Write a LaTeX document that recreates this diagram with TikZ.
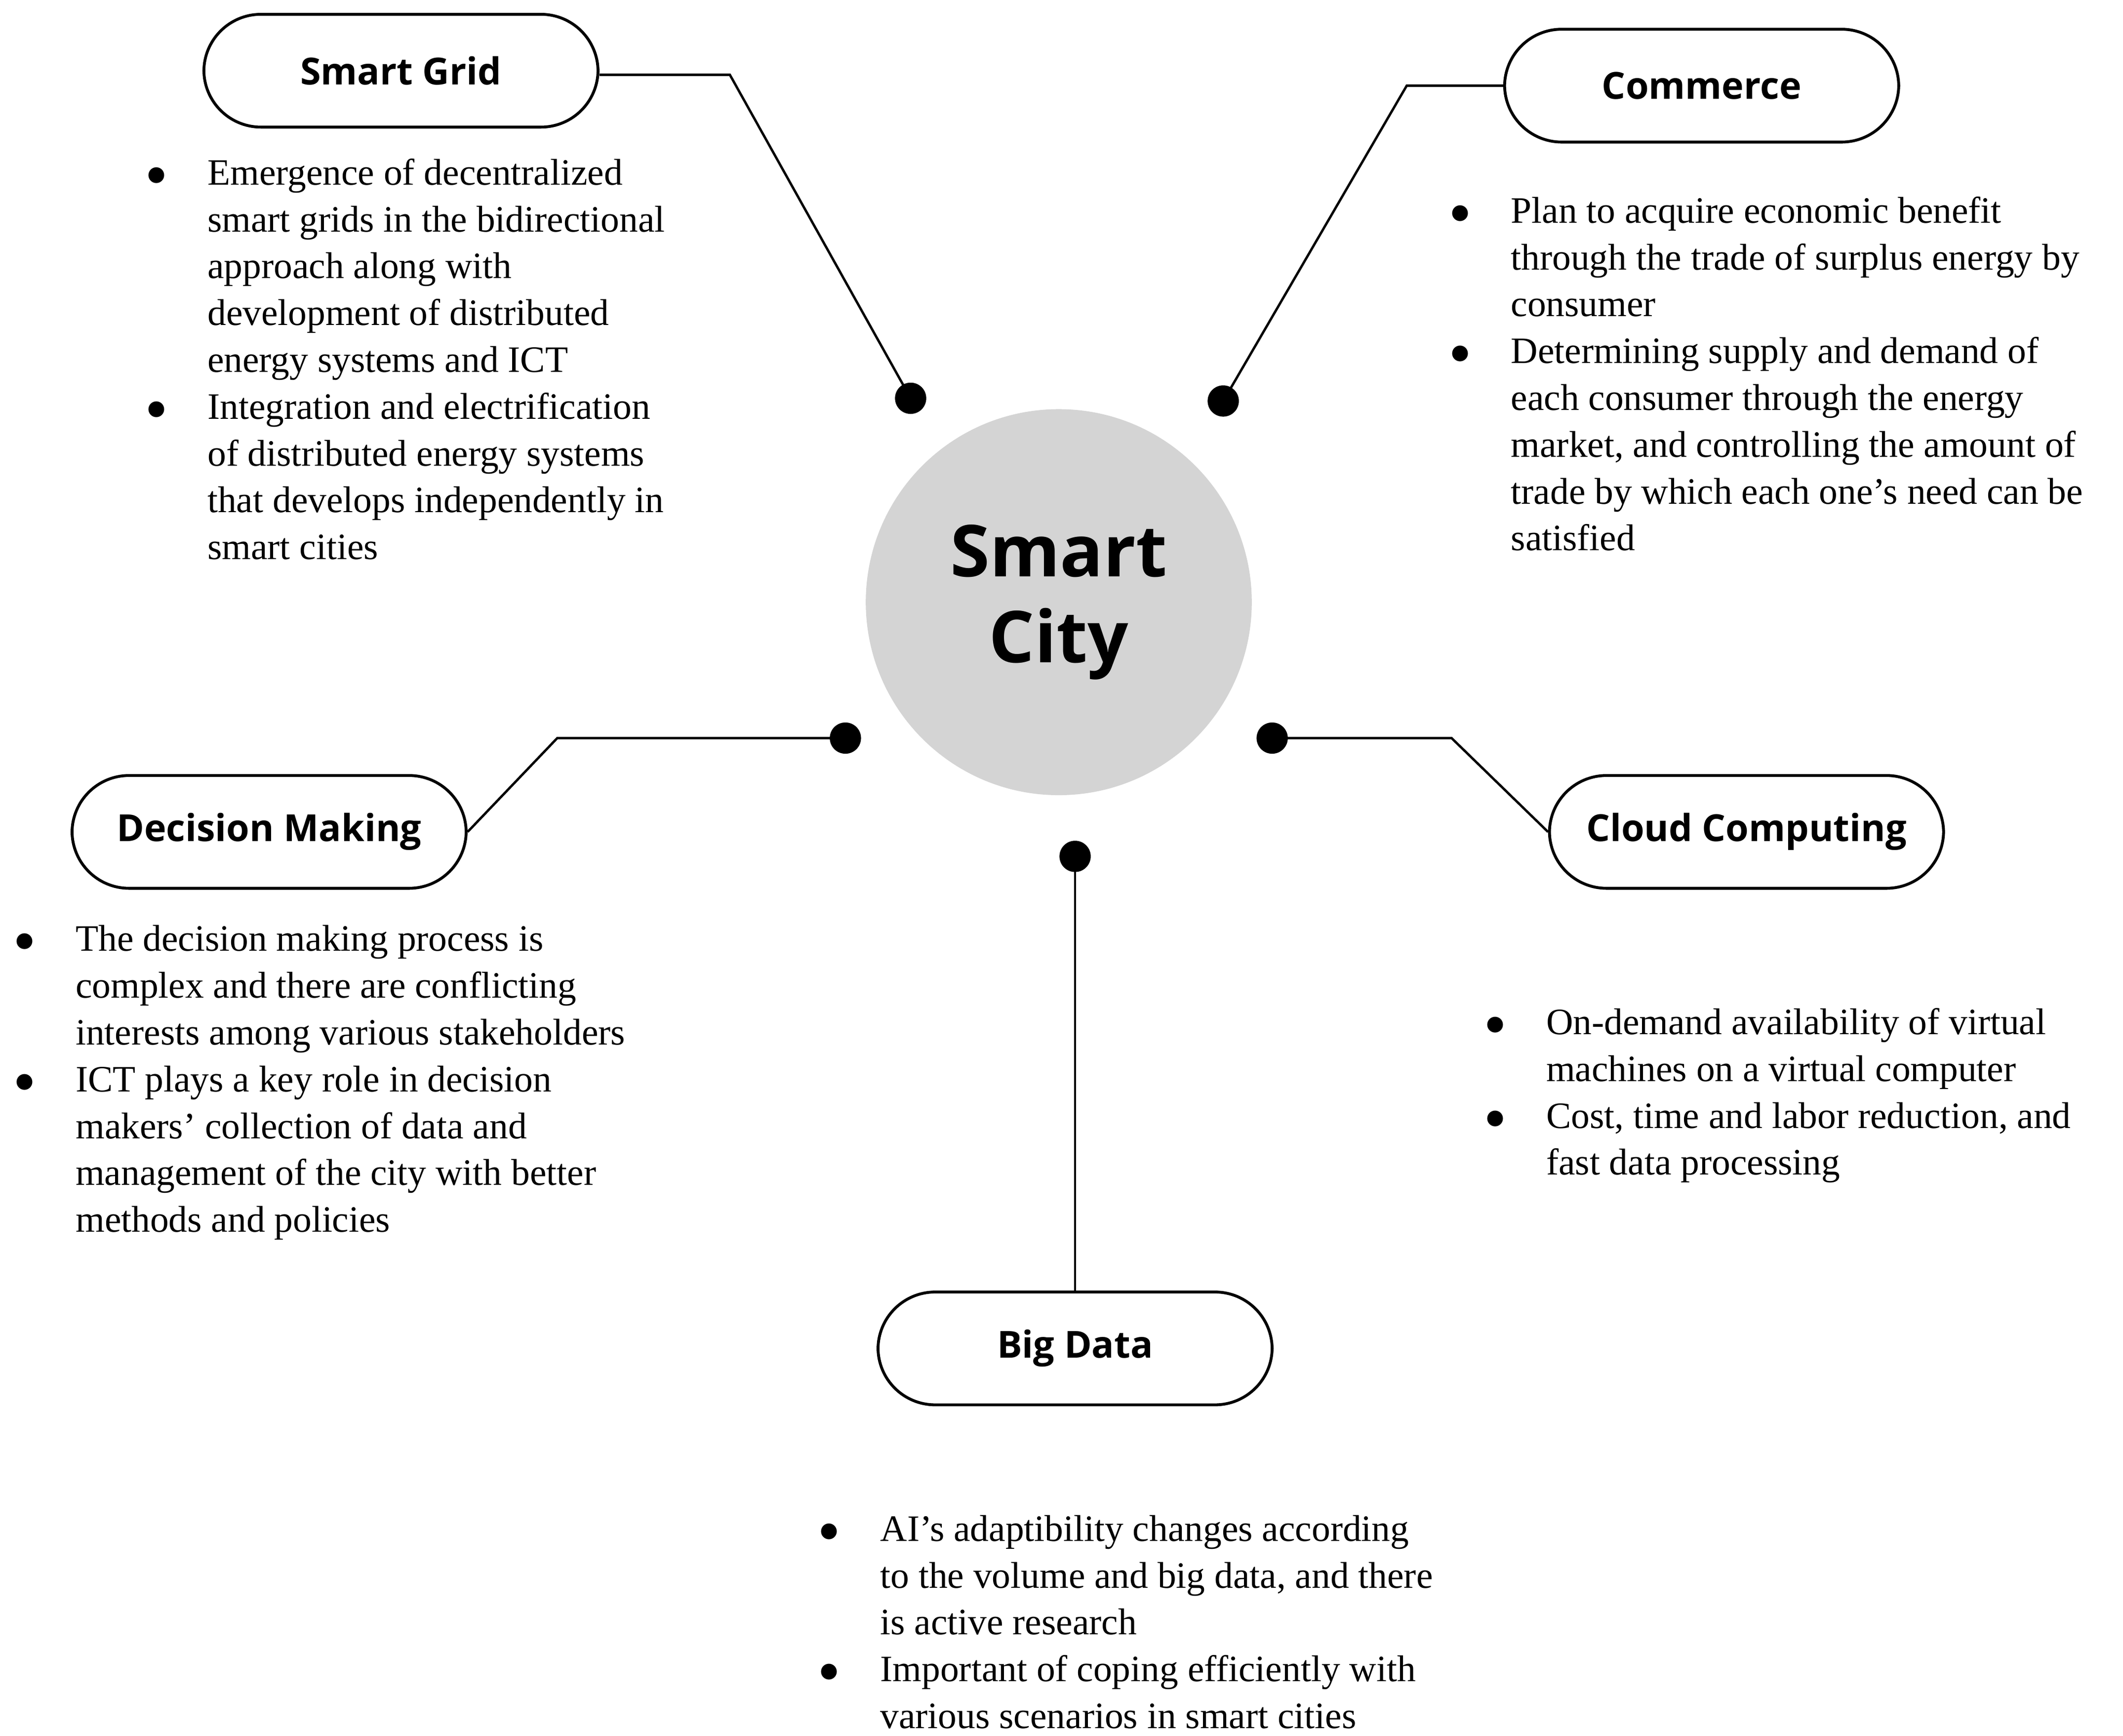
\documentclass[tikz,border=0pt]{standalone}
\usepackage{fontspec}
\setmainfont{Liberation Serif}
\newfontfamily\lab{Open Sans}
\usepackage{enumitem}
\begin{document}
\begin{tikzpicture}[x=0.1mm,y=-0.1mm,
 pill/.style={draw,line width=0.6pt,rounded corners=0.42cm,minimum width=2.9cm,minimum height=0.83cm,font=\lab\fontsize{7.8}{9}\selectfont\bfseries},
 dot/.style={circle,fill=black,inner sep=0pt,minimum size=0.23cm},
 conn/.style={draw,line width=0.5pt},
 txt/.style={anchor=north west,inner sep=0pt,align=left,font=\fontsize{7.8}{9.8}\selectfont}]
\useasboundingbox (0,0) rectangle (1562,1277);
\node[circle,fill=black!17,minimum size=2.84cm,inner sep=0pt,align=center,font=\lab\fontsize{15}{18}\selectfont\bfseries] (c) at (779,443) {Smart\\City};
\node[pill] (sg) at (295,52) {Smart Grid};
\node[pill] (cm) at (1252,63) {Commerce};
\node[pill] (dm) at (198,612) {Decision Making};
\node[pill] (cc) at (1285,612) {Cloud Computing};
\node[pill] (bd) at (791,992) {Big Data};
\node[dot] (d1) at (670,293) {};
\node[dot] (d2) at (900,295) {};
\node[dot] (d3) at (622,543) {};
\node[dot] (d4) at (936,543) {};
\node[dot] (d5) at (791,630) {};
\coordinate (k1) at (537,55);
\coordinate (k2) at (1035,63);
\coordinate (k3) at (410,543);
\coordinate (k4) at (1068,543);
\path[conn] (sg.east |- k1) -- (k1) -- (d1.center);
\path[conn] (cm.west) -- (k2) -- (d2.center);
\path[conn] (dm.east) -- (k3) -- (d3.center);
\path[conn] (cc.west) -- (k4) -- (d4.center);
\path[conn] (bd.north) -- (d5.center);
\newcommand{\blist}[1]{\begin{minipage}[t]{5cm}\begin{itemize}[leftmargin=0.44cm,labelsep=0.3cm,itemsep=0pt,topsep=0pt,parsep=0pt,partopsep=0pt,label=$\bullet$]#1\end{itemize}\end{minipage}}
\node[txt] (t1) at (108,116) {\blist{\item Emergence of decentralized\\ smart grids in the bidirectional\\ approach along with\\ development of distributed\\ energy systems and ICT
\item Integration and electrification\\ of distributed energy systems\\ that develops independently in\\ smart cities}};
\node[txt] (t2) at (1067,144) {\blist{\item Plan to acquire economic benefit\\ through the trade of surplus energy by\\ consumer
\item Determining supply and demand of\\ each consumer through the energy\\ market, and controlling the amount of\\ trade by which each one's need can be\\ satisfied}};
\node[txt] (t3) at (11,680) {\blist{\item The decision making process is\\ complex and there are conflicting\\ interests among various stakeholders
\item ICT plays a key role in decision\\ makers' collection of data and\\ management of the city with better\\ methods and policies}};
\node[txt] (t4) at (1093,741) {\blist{\item On-demand availability of virtual\\ machines on a virtual computer
\item Cost, time and labor reduction, and\\ fast data processing}};
\node[txt] (t5) at (603,1114) {\blist{\item AI's adaptibility changes according\\ to the volume and big data, and there\\ is active research
\item Important of coping efficiently with\\ various scenarios in smart cities}};
\end{tikzpicture}
\end{document}
